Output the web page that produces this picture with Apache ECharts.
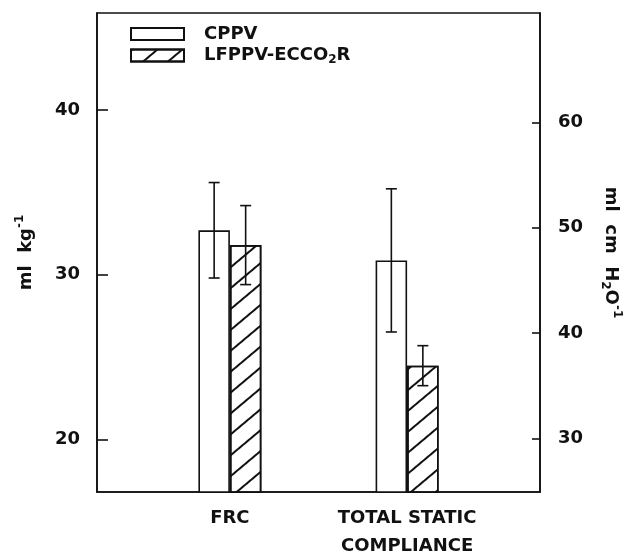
<!DOCTYPE html>
<html><head><meta charset="utf-8">
<script src="https://cdn.jsdelivr.net/npm/echarts@6/dist/echarts.min.js"></script>
<style>html,body{margin:0;padding:0;background:#fff}#c{width:626px;height:555px}</style>
</head><body><div id="c"></div>
<script>
// ---- data ----
const categories = ['', 'FRC', '', 'TOTAL STATIC\nCOMPLIANCE', ''];
const seriesNames = ['CPPV', 'LFPPV-ECCO2R'];
const frcIndex = 1;            // category index of FRC
const compIndex = 3;           // category index of total static compliance
const frcMean = [32.7, 31.8];  // ml kg-1  (CPPV, LFPPV-ECCO2R)
const frcErr = [2.9, 2.4];
const compMean = [46.9, 36.9]; // ml cm H2O-1 (CPPV, LFPPV-ECCO2R)
const compErr = [6.8, 1.9];
const leftTicks = [20, 30, 40];
const rightTicks = [30, 40, 50, 60];

// ---- style ----
const FONT = 'DejaVu Sans';
const WEIGHT = 'bold';
const INK = '#111';
const BAR_W = 31.5;
const hatch = {
  symbol: 'rect', symbolSize: 1, dashArrayX: [1, 0], dashArrayY: [1.4, 13.5],
  rotation: -Math.PI / 4.5, color: INK
};
const barStyles = [
  { color: '#fff', borderColor: INK, borderWidth: 1.6 },
  { color: '#fff', borderColor: INK, borderWidth: 1.6, decal: hatch }
];

function barSeries(i, xIdx, yIdx, catIdx, value) {
  const data = categories.map((c, k) => (k === catIdx ? value : '-'));
  return {
    type: 'bar', name: seriesNames[i], xAxisIndex: xIdx, yAxisIndex: yIdx,
    data: data, barWidth: BAR_W, barGap: '0%', itemStyle: barStyles[i],
    emphasis: { disabled: true }, silent: true
  };
}
function errSeries(i, xIdx, yIdx, catIdx, mean, err) {
  const side = i === 0 ? -1 : 1;
  return {
    type: 'custom', xAxisIndex: xIdx, yAxisIndex: yIdx, silent: true, z: 5,
    data: [[catIdx, mean, err]],
    encode: { x: 0, y: 1 },
    renderItem: function (params, api) {
      const c = api.value(0), m = api.value(1), e = api.value(2);
      const t = api.coord([c, m + e]), b = api.coord([c, m - e]);
      const x = t[0] + side * BAR_W / 2;
      const cap = 5.5;
      const st = { stroke: INK, lineWidth: 1.6 };
      return {
        type: 'group', children: [
          { type: 'line', shape: { x1: x, y1: t[1], x2: x, y2: b[1] }, style: st },
          { type: 'line', shape: { x1: x - cap, y1: t[1], x2: x + cap, y2: t[1] }, style: st },
          { type: 'line', shape: { x1: x - cap, y1: b[1], x2: x + cap, y2: b[1] }, style: st }
        ]
      };
    }
  };
}

const series = [];
for (let i = 0; i < 2; i++) series.push(barSeries(i, 0, 0, frcIndex, frcMean[i]));
for (let i = 0; i < 2; i++) series.push(barSeries(i, 1, 1, compIndex, compMean[i]));
for (let i = 0; i < 2; i++) series.push(errSeries(i, 0, 0, frcIndex, frcMean[i], frcErr[i]));
for (let i = 0; i < 2; i++) series.push(errSeries(i, 1, 1, compIndex, compMean[i], compErr[i]));

const txt = { fontFamily: FONT, fontWeight: WEIGHT, fontSize: 18, color: INK };
const main = { fontFamily: FONT, fontWeight: WEIGHT, fontSize: 18, color: INK };
const small = { fontFamily: FONT, fontWeight: WEIGHT, fontSize: 12, color: INK };

const chart = echarts.init(document.getElementById('c'), null, { renderer: 'canvas' });
chart.setOption({
  animation: false,
  backgroundColor: '#fff',
  grid: { left: 97, right: 86, top: 13, bottom: 63, outerBoundsMode: 'none', containLabel: false,
          show: true, borderColor: INK, borderWidth: 1.6, backgroundColor: 'transparent' },
  legend: {
    orient: 'vertical', left: 130, top: 25, padding: 0, itemWidth: 53, itemHeight: 12, itemGap: 2,
    icon: 'rect', data: seriesNames, selectedMode: false,
    formatter: function (n) { return n === 'LFPPV-ECCO2R' ? '{a|LFPPV-ECCO}{s|2}{a|R}' : '{a|' + n + '}'; },
    textStyle: Object.assign({}, main, {
      padding: [0, 0, 0, 15],
      rich: {
        a: Object.assign({ lineHeight: 17 }, main),
        s: Object.assign({ padding: [9, 0, 0, 0], lineHeight: 17 }, small)
      }
    })
  },
  xAxis: [
    {
      type: 'category', data: categories, gridIndex: 0, position: 'bottom',
      axisLine: { lineStyle: { color: INK, width: 1.6 } },
      axisTick: { show: false },
      axisLabel: Object.assign({ interval: 0, margin: 12, lineHeight: 28 }, txt),
      splitLine: { show: false }
    },
    { type: 'category', data: categories, gridIndex: 0, show: false }
  ],
  yAxis: [
    {
      type: 'value', min: 16.8, max: 45.9, position: 'left',
      name: '{a|ml  kg}{s|-1}', nameLocation: 'middle', nameRotate: 90, nameGap: 58,
      nameTextStyle: { rich: { a: main, s: Object.assign({ padding: [0, 0, 13, 0] }, small) } },
      axisLine: { show: true, lineStyle: { color: INK, width: 1.6 } },
      axisTick: { show: true, inside: true, length: 11, customValues: leftTicks, lineStyle: { color: INK, width: 1.6 } },
      axisLabel: Object.assign({ margin: 17, customValues: leftTicks }, txt),
      splitLine: { show: false }
    },
    {
      type: 'value', min: 24.9, max: 70.4, position: 'right',
      name: '{a|ml  cm  H}{s|2}{a|O}{p|-1}', nameLocation: 'middle', nameRotate: -90, nameGap: 58,
      nameTextStyle: {
        rich: {
          a: main,
          s: Object.assign({ padding: [10, 0, 0, 0] }, small),
          p: Object.assign({ padding: [0, 0, 13, 0] }, small)
        }
      },
      axisLine: { show: true, lineStyle: { color: INK, width: 1.6 } },
      axisTick: { show: true, inside: true, length: 8, customValues: rightTicks, lineStyle: { color: INK, width: 1.6 } },
      axisLabel: Object.assign({ margin: 18, customValues: rightTicks }, txt),
      splitLine: { show: false }
    }
  ],
  series: series
});
</script>
</body></html>
